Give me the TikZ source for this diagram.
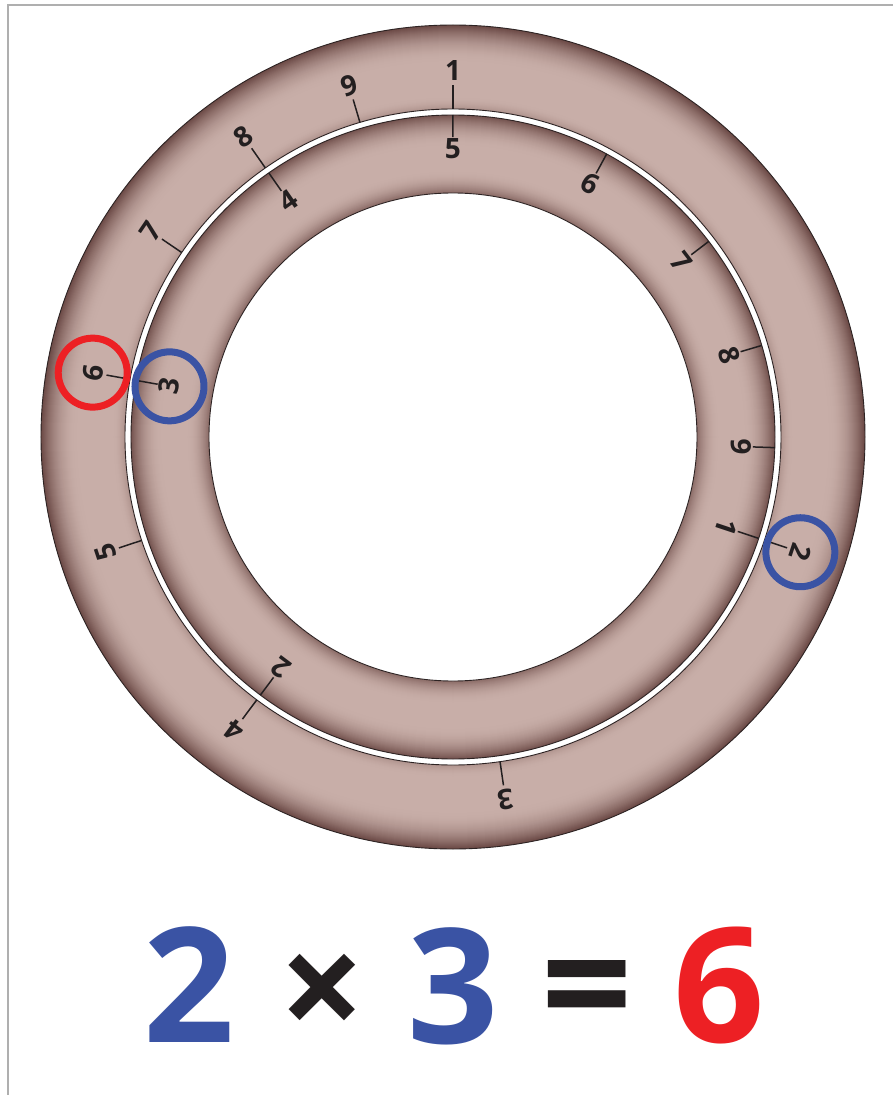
\documentclass[tikz,border=0pt]{standalone}
\usepackage{fontspec}
\setmainfont{Open Sans}
\definecolor{ringlight}{RGB}{200,174,168}
\definecolor{ringdark}{RGB}{108,74,70}
\definecolor{edge}{RGB}{45,35,35}
\definecolor{eqblue}{RGB}{58,83,164}
\definecolor{eqred}{RGB}{237,32,36}
\definecolor{ink}{RGB}{35,31,32}
\definecolor{framegray}{RGB}{175,175,175}
\begin{document}
\begin{tikzpicture}[x=1pt,y=1pt,
  digit/.style={font=\bfseries\fontsize{28}{28}\selectfont, text=ink, inner sep=0pt},
  tickline/.style={draw=ink, line width=1.5pt},
  edgeline/.style={draw=edge, line width=0.9pt},
  markring/.style={circle, draw=#1, line width=7pt, minimum size=69pt, inner sep=0pt},
  eq/.style={font=\bfseries\fontsize{160}{160}\selectfont, inner sep=0pt}
]
\useasboundingbox (-453,-658) rectangle (440,437);
\fill[white] (-453,-658) rectangle (440,437);
% frame
\draw[framegray, line width=2pt] (-445,-658) -- (-445,432) -- (440,432);
% outer ring shading
\foreach \r in {412,411,...,329}{
  \pgfmathsetmacro{\a}{max(0,1-(412-\r)/36)}
  \pgfmathsetmacro{\b}{max(0,1-(\r-328)/12)}
  \pgfmathtruncatemacro{\p}{100*(1-min(1,\a*\a+0.3*\b*\b))}
  \fill[ringlight!\p!ringdark] (0,0) circle (\r pt);
}
\fill[white] (0,0) circle (328pt);
% inner ring shading
\foreach \r in {322,321,...,245}{
  \pgfmathsetmacro{\a}{max(0,1-(322-\r)/30)}
  \pgfmathsetmacro{\b}{max(0,1-(\r-244)/22)}
  \pgfmathtruncatemacro{\p}{100*(1-min(1,0.9*\a*\a+0.7*\b*\b))}
  \fill[ringlight!\p!ringdark] (0,0) circle (\r pt);
}
\fill[white] (0,0) circle (244pt);
\draw[edgeline] (0,0) circle (412pt) (0,0) circle (328pt) (0,0) circle (322pt) (0,0) circle (244pt);
% outer scale
\foreach \n in {1,...,9}{
  \pgfmathsetmacro{\ang}{90-360*log10(\n)}
  \pgfmathsetmacro{\rot}{\ang-90}
  \coordinate (otA\n) at (\ang:328pt);
  \coordinate (otB\n) at (\ang:352pt);
  \draw[tickline] (otA\n) -- (otB\n);
  \node[digit, rotate=\rot] (o\n) at (\ang:366pt) {\n};
}
% inner scale
\foreach \n in {1,...,9}{
  \pgfmathsetmacro{\ang}{90-360*log10(2*\n)}
  \pgfmathsetmacro{\rot}{\ang-90}
  \coordinate (itA\n) at (\ang:322pt);
  \coordinate (itB\n) at (\ang:300pt);
  \draw[tickline] (itA\n) -- (itB\n);
  \node[digit, rotate=\rot] (i\n) at (\ang:288pt) {\n};
}
% markers
\node[markring=eqred] (m6) at (o6.center) {};
\node[markring=eqblue] (m3) at (i3.center) {};
\node[markring=eqblue] (m2) at (o2.center) {};
% equation
\node[eq, text=eqblue] (e2) at (-263.5,-548) {2};
\node[eq, text=ink, font=\bfseries\fontsize{150}{150}\selectfont] (ex) at (-131,-560) {×};
\node[eq, text=eqblue] (e3) at (0,-549) {3};
\node[eq, text=ink] (eeq) at (134,-563) {=};
\node[eq, text=eqred] (e6) at (266,-548) {6};
\end{tikzpicture}
\end{document}
